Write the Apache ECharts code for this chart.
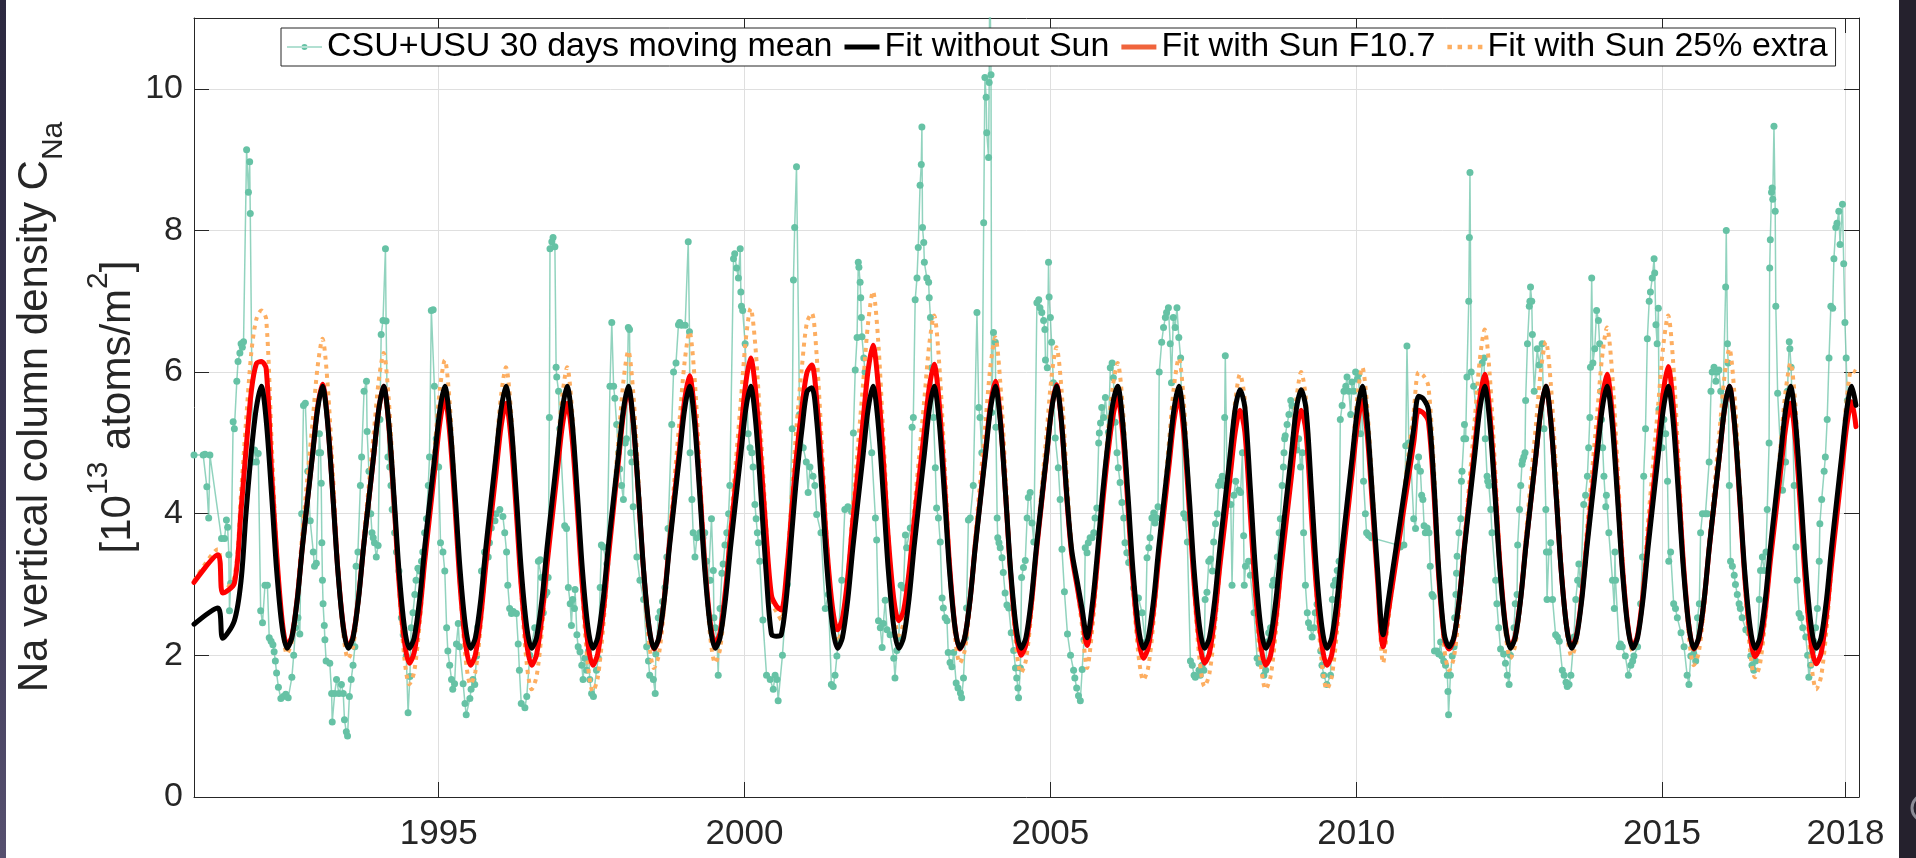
<!DOCTYPE html>
<html>
<head>
<meta charset="utf-8">
<title>Na vertical column density</title>
<script src="https://cdn.jsdelivr.net/npm/echarts@6/dist/echarts.min.js"></script>
<style>
  html, body { margin: 0; padding: 0; background: #ffffff; }
  #chart { width: 1916px; height: 858px; }
</style>
</head>
<body>
<div id="chart"></div>
<script>
// ---- Tick labels -------------------------------------------------------
const yearTicks = [1995, 2000, 2005, 2010, 2015, 2018];
const valueTicks = [0, 2, 4, 6, 8, 10];

// ---- Series names ------------------------------------------------------
const nameObs = 'CSU+USU 30 days moving mean';
const nameNoSun = 'Fit without Sun';
const nameF107 = 'Fit with Sun F10.7';
const nameExtra = 'Fit with Sun 25% extra';

// ---- Observations: [decimal year, column density] ---------------------
const obsData = [
  [1991.00,4.83],[1991.15,4.83],[1991.18,4.84],[1991.21,4.38],[1991.24,3.94],[1991.26,4.83],[1991.45,3.65],[1991.50,3.65],[1991.53,3.91],[1991.55,3.81],[1991.57,3.42],[1991.58,2.63],[1991.60,3.02],[1991.64,5.30],[1991.66,5.20],[1991.70,5.87],[1991.72,6.15],[1991.75,6.27],[1991.77,6.40],[1991.79,6.35],[1991.81,6.43],[1991.86,9.14],[1991.89,8.54],[1991.91,8.97],[1991.92,8.24],[1991.96,4.73],[1991.99,4.90],
  [1992.02,4.73],[1992.05,4.85],[1992.09,2.63],[1992.12,2.46],[1992.16,2.99],[1992.20,2.99],[1992.23,2.25],[1992.26,2.20],[1992.29,2.15],[1992.31,2.05],[1992.33,1.92],[1992.35,1.75],[1992.38,1.55],[1992.42,1.39],[1992.46,1.42],[1992.50,1.45],[1992.54,1.40],[1992.60,1.69],[1992.63,2.00],[1992.66,2.39],[1992.70,2.53],[1992.73,2.30],[1992.76,4.00],[1992.79,5.53],[1992.82,5.56],[1992.86,4.60],[1992.90,3.90],[1992.95,3.46],[1992.97,3.26],
  [1993.00,3.30],[1993.04,4.86],[1993.05,5.13],[1993.07,4.86],[1993.08,4.43],[1993.09,3.59],[1993.10,3.06],[1993.11,2.73],[1993.13,2.42],[1993.14,2.22],[1993.16,1.92],[1993.22,1.89],[1993.25,1.46],[1993.26,1.06],[1993.30,1.46],[1993.33,1.66],[1993.37,1.46],[1993.41,1.59],[1993.44,1.46],[1993.46,1.09],[1993.49,0.92],[1993.51,0.86],[1993.54,1.42],[1993.57,1.66],[1993.60,1.86],[1993.63,2.12],[1993.65,3.26],[1993.68,3.46],[1993.72,4.40],[1993.74,4.80],[1993.78,5.73],[1993.82,5.87],[1993.83,5.16],[1993.86,4.60],[1993.89,4.00],[1993.91,3.73],[1993.93,3.66],[1993.95,3.59],[1993.98,3.39],
  [1994.01,3.55],[1994.04,5.33],[1994.06,6.53],[1994.09,6.73],[1994.13,7.74],[1994.14,6.72],[1994.17,4.80],[1994.20,4.66],[1994.22,4.40],[1994.24,4.06],[1994.28,3.73],[1994.31,3.46],[1994.35,3.19],[1994.39,2.53],[1994.42,2.29],[1994.47,1.99],[1994.50,1.19],[1994.53,1.70],[1994.55,2.39],[1994.58,2.60],[1994.61,2.86],[1994.63,3.06],[1994.66,3.23],[1994.69,3.19],[1994.72,3.33],[1994.74,3.46],[1994.77,3.73],[1994.80,3.93],[1994.83,4.40],[1994.85,4.80],[1994.88,6.87],[1994.91,6.88],[1994.93,5.80],[1994.96,5.06],
  [1995.00,4.66],[1995.03,3.59],[1995.07,3.46],[1995.10,3.19],[1995.13,2.39],[1995.15,2.06],[1995.18,1.86],[1995.21,1.66],[1995.23,1.52],[1995.26,1.60],[1995.29,2.16],[1995.32,2.45],[1995.34,2.12],[1995.40,1.60],[1995.43,1.32],[1995.45,1.16],[1995.51,1.39],[1995.53,1.52],[1995.56,1.66],[1995.59,1.59],[1995.62,1.99],[1995.64,2.40],[1995.70,3.19],[1995.75,3.46],[1995.81,3.39],[1995.83,3.59],[1995.86,3.80],[1995.92,3.90],[1995.94,4.00],
  [1996.00,4.06],[1996.05,3.96],[1996.08,3.73],[1996.11,3.46],[1996.13,2.99],[1996.16,2.66],[1996.19,2.59],[1996.22,2.62],[1996.27,2.59],[1996.30,2.16],[1996.32,1.79],[1996.35,1.32],[1996.41,1.26],[1996.44,1.42],[1996.49,2.00],[1996.57,2.39],[1996.60,2.20],[1996.63,3.33],[1996.66,3.35],[1996.68,3.10],[1996.71,2.60],[1996.74,2.85],[1996.77,2.89],[1996.79,3.10],[1996.81,5.36],[1996.82,7.74],[1996.85,7.84],[1996.87,7.90],[1996.90,7.77],[1996.92,6.07],[1996.93,5.93],[1996.96,5.73],[1996.98,5.20],
  [1997.06,3.83],[1997.09,3.79],[1997.12,2.96],[1997.15,2.73],[1997.17,2.42],[1997.19,2.79],[1997.22,2.66],[1997.23,2.93],[1997.26,2.29],[1997.28,2.12],[1997.31,2.05],[1997.34,1.86],[1997.36,1.66],[1997.39,1.96],[1997.42,1.79],[1997.45,2.06],[1997.47,1.66],[1997.50,1.46],[1997.53,1.42],[1997.58,1.79],[1997.61,1.96],[1997.64,2.96],[1997.66,3.56],[1997.69,3.53],[1997.75,3.29],[1997.80,5.80],[1997.83,6.70],[1997.86,5.80],[1997.88,5.63],[1997.91,5.26],[1997.94,4.86],[1997.96,4.63],[1997.99,4.40],
  [1998.02,4.20],[1998.05,5.00],[1998.07,5.06],[1998.10,6.63],[1998.12,6.60],[1998.14,4.86],[1998.16,4.73],[1998.18,4.10],[1998.24,3.39],[1998.29,3.06],[1998.35,2.79],[1998.40,2.12],[1998.43,1.92],[1998.45,1.72],[1998.51,1.66],[1998.54,1.46],[1998.55,2.02],[1998.59,2.53],[1998.62,2.62],[1998.66,2.76],[1998.70,2.96],[1998.73,3.39],[1998.75,3.79],[1998.81,5.26],[1998.84,6.00],[1998.88,6.13],[1998.92,6.67],[1998.94,6.70],[1998.97,6.66],
  [1999.03,6.66],[1999.08,7.84],[1999.10,6.57],[1999.11,4.86],[1999.14,4.20],[1999.16,3.73],[1999.19,3.39],[1999.22,3.66],[1999.27,3.73],[1999.32,3.66],[1999.35,3.73],[1999.38,3.33],[1999.41,3.06],[1999.44,3.06],[1999.46,3.93],[1999.49,3.20],[1999.50,2.53],[1999.52,2.39],[1999.55,2.22],[1999.57,1.72],[1999.60,2.66],[1999.63,3.16],[1999.65,3.29],[1999.68,3.56],[1999.71,3.73],[1999.74,4.00],[1999.76,4.40],[1999.82,7.60],[1999.84,7.67],[1999.87,7.47],[1999.90,7.33],[1999.93,7.74],[1999.94,7.13],[1999.95,6.93],[1999.97,6.87],
  [2000.01,6.40],[2000.06,5.13],[2000.09,4.93],[2000.12,4.86],[2000.14,4.66],[2000.17,4.13],[2000.19,3.93],[2000.21,3.73],[2000.23,3.59],[2000.25,3.33],[2000.30,2.50],[2000.36,1.72],[2000.42,1.66],[2000.47,1.52],[2000.50,1.72],[2000.53,1.66],[2000.55,1.36],[2000.62,2.00],[2000.70,3.00],[2000.78,5.20],[2000.80,7.30],[2000.82,8.04],[2000.85,8.90],[2000.90,5.40],[2000.96,4.93],
  [2001.01,4.73],[2001.04,4.30],[2001.07,4.66],[2001.12,4.53],[2001.15,4.40],[2001.18,3.99],[2001.25,3.73],[2001.32,2.66],[2001.37,2.86],[2001.42,1.59],[2001.45,1.56],[2001.48,1.72],[2001.51,1.99],[2001.53,2.20],[2001.59,3.06],[2001.64,4.06],[2001.69,4.10],[2001.75,4.03],[2001.78,5.14],[2001.81,6.03],[2001.84,6.49],[2001.86,7.55],[2001.87,7.48],[2001.89,7.27],[2001.90,7.05],[2001.91,6.77],[2001.92,6.50],[2001.95,6.20],[2001.97,6.00],
  [2002.00,5.60],[2002.08,4.86],[2002.14,3.94],[2002.16,3.63],[2002.19,2.49],[2002.22,2.39],[2002.25,2.11],[2002.27,2.45],[2002.30,2.78],[2002.33,2.36],[2002.38,2.29],[2002.44,1.96],[2002.46,1.68],[2002.49,2.07],[2002.52,2.25],[2002.56,2.99],[2002.60,2.95],[2002.63,3.70],[2002.65,3.52],[2002.71,3.80],[2002.74,5.22],[2002.76,5.36],[2002.79,7.02],[2002.82,7.33],[2002.84,7.76],[2002.87,8.64],[2002.89,8.93],[2002.90,9.46],[2002.91,8.04],[2002.93,7.83],[2002.94,7.55],[2002.98,7.33],
  [2003.01,7.27],[2003.02,7.05],[2003.04,6.77],[2003.06,6.06],[2003.09,5.36],[2003.12,4.65],[2003.14,4.08],[2003.17,3.94],[2003.20,3.60],[2003.23,2.81],[2003.25,2.67],[2003.28,2.53],[2003.31,2.49],[2003.33,2.04],[2003.36,1.90],[2003.39,1.84],[2003.42,2.04],[2003.46,1.61],[2003.49,1.54],[2003.53,1.47],[2003.55,1.40],[2003.58,1.68],[2003.61,2.25],[2003.63,2.67],[2003.66,3.91],[2003.69,3.94],[2003.74,4.40],[2003.80,6.84],[2003.83,5.50],[2003.85,5.36],[2003.88,4.86],[2003.91,8.11],[2003.93,10.16],[2003.95,9.88],[2003.96,9.38],[2003.99,9.03],
  [2004.00,10.09],[2004.01,11.80],[2004.03,10.20],[2004.04,5.43],[2004.07,6.56],[2004.10,6.42],[2004.11,5.22],[2004.13,3.94],[2004.14,3.66],[2004.16,3.59],[2004.18,3.52],[2004.21,3.38],[2004.23,3.17],[2004.26,2.88],[2004.29,2.71],[2004.32,2.67],[2004.36,2.32],[2004.40,2.07],[2004.43,1.82],[2004.45,1.68],[2004.47,1.54],[2004.48,1.40],[2004.51,1.82],[2004.53,3.10],[2004.56,3.24],[2004.59,3.34],[2004.62,3.94],[2004.64,4.23],[2004.67,4.30],[2004.70,3.87],[2004.73,3.60],[2004.78,6.98],[2004.81,7.02],[2004.83,6.91],[2004.86,6.84],[2004.89,6.73],[2004.91,6.60],[2004.92,6.17],[2004.95,6.06],[2004.97,7.55],[2004.98,7.06],
  [2005.00,6.77],[2005.02,6.42],[2005.05,5.85],[2005.08,5.07],[2005.13,4.65],[2005.16,4.20],[2005.19,3.50],[2005.23,2.90],[2005.28,2.30],[2005.33,2.00],[2005.38,1.79],[2005.40,1.68],[2005.43,1.54],[2005.46,1.43],[2005.49,1.36],[2005.52,1.80],[2005.55,2.22],[2005.57,3.52],[2005.60,3.45],[2005.62,3.59],[2005.65,3.66],[2005.68,3.66],[2005.71,3.73],[2005.73,3.94],[2005.76,4.08],[2005.79,5.00],[2005.80,5.14],[2005.82,5.28],[2005.84,5.50],[2005.87,5.36],[2005.90,5.64],[2005.95,5.15],[2005.98,6.06],
  [2006.01,6.13],[2006.03,5.92],[2006.06,5.29],[2006.09,4.86],[2006.11,4.65],[2006.14,4.44],[2006.17,4.16],[2006.20,3.94],[2006.22,3.59],[2006.25,3.45],[2006.28,3.31],[2006.36,2.95],[2006.44,2.81],[2006.50,2.60],[2006.55,2.18],[2006.58,3.38],[2006.61,3.52],[2006.63,3.66],[2006.66,3.94],[2006.69,4.01],[2006.71,3.87],[2006.74,3.94],[2006.76,4.10],[2006.78,6.00],[2006.82,6.42],[2006.85,6.63],[2006.88,6.77],[2006.90,6.84],[2006.93,6.91],[2006.96,6.40],[2006.98,5.85],
  [2007.01,6.77],[2007.04,6.63],[2007.07,6.91],[2007.10,6.49],[2007.13,6.20],[2007.18,4.00],[2007.21,3.94],[2007.24,3.60],[2007.29,1.92],[2007.32,1.86],[2007.35,1.72],[2007.37,1.69],[2007.43,1.79],[2007.45,1.72],[2007.48,1.86],[2007.51,1.79],[2007.53,2.79],[2007.56,2.89],[2007.59,3.33],[2007.62,3.36],[2007.65,3.19],[2007.67,3.60],[2007.70,3.86],[2007.73,4.00],[2007.75,4.40],[2007.78,4.46],[2007.81,4.53],[2007.84,4.40],[2007.85,5.36],[2007.86,6.23],[2007.89,4.40],[2007.95,4.13],[2007.97,2.99],
  [2008.00,4.26],[2008.03,4.46],[2008.08,4.33],[2008.11,4.30],[2008.14,4.86],[2008.16,3.69],[2008.17,2.99],[2008.19,3.26],[2008.24,3.33],[2008.27,3.13],[2008.33,2.60],[2008.38,1.96],[2008.41,1.89],[2008.46,2.12],[2008.49,1.72],[2008.52,1.79],[2008.54,2.19],[2008.57,2.32],[2008.60,2.39],[2008.63,2.99],[2008.65,3.06],[2008.71,3.39],[2008.74,3.73],[2008.76,3.93],[2008.79,4.40],[2008.81,4.66],[2008.82,4.86],[2008.83,5.06],[2008.84,5.10],[2008.87,5.26],[2008.90,5.40],[2008.93,5.60],[2008.95,5.53],[2008.98,5.06],
  [2009.03,4.90],[2009.06,5.06],[2009.09,4.66],[2009.12,4.86],[2009.14,3.73],[2009.17,2.99],[2009.20,2.60],[2009.22,2.46],[2009.25,2.39],[2009.28,2.26],[2009.31,2.39],[2009.33,2.60],[2009.36,2.72],[2009.42,2.06],[2009.44,1.86],[2009.47,1.72],[2009.52,1.59],[2009.58,1.72],[2009.61,2.79],[2009.63,2.99],[2009.66,3.06],[2009.69,3.20],[2009.72,3.33],[2009.74,5.33],[2009.77,5.53],[2009.80,5.73],[2009.83,5.80],[2009.85,5.93],[2009.88,5.73],[2009.91,5.40],[2009.93,5.86],[2009.96,5.73],[2009.99,6.00],
  [2010.02,5.90],[2010.04,5.97],[2010.07,5.13],[2010.10,5.73],[2010.12,4.46],[2010.15,4.00],[2010.17,3.73],[2010.20,3.70],[2010.22,3.69],[2010.25,3.66],[2010.67,3.56],[2010.72,3.53],[2010.78,3.56],[2010.81,4.96],[2010.83,6.37],[2010.86,5.00],[2010.89,4.80],[2010.94,3.93],[2010.97,3.79],
  [2011.00,4.66],[2011.02,4.80],[2011.05,4.60],[2011.07,4.26],[2011.09,4.20],[2011.11,3.83],[2011.13,3.73],[2011.16,3.80],[2011.19,3.73],[2011.21,3.26],[2011.24,2.86],[2011.26,2.83],[2011.28,2.06],[2011.32,2.06],[2011.35,2.02],[2011.38,2.19],[2011.40,1.99],[2011.43,1.92],[2011.46,1.86],[2011.49,1.72],[2011.50,1.49],[2011.51,1.16],[2011.54,1.72],[2011.57,1.99],[2011.60,2.12],[2011.61,2.53],[2011.63,2.86],[2011.64,3.16],[2011.65,3.40],[2011.68,3.73],[2011.71,3.93],[2011.72,4.46],[2011.73,4.60],[2011.76,5.06],[2011.77,5.26],[2011.79,5.06],[2011.81,5.93],[2011.84,7.00],[2011.85,7.90],[2011.86,8.82],[2011.88,6.00],[2011.92,5.80],[2011.98,5.33],
  [2012.03,5.73],[2012.06,6.13],[2012.09,6.20],[2012.11,5.06],[2012.14,4.53],[2012.15,4.46],[2012.17,4.40],[2012.20,4.06],[2012.22,3.73],[2012.28,3.06],[2012.30,2.73],[2012.33,2.39],[2012.36,2.09],[2012.41,2.02],[2012.44,1.89],[2012.47,1.72],[2012.50,1.59],[2012.52,2.00],[2012.58,2.39],[2012.60,2.73],[2012.63,2.86],[2012.64,3.56],[2012.67,4.06],[2012.69,4.40],[2012.71,4.70],[2012.72,4.75],[2012.74,4.80],[2012.76,4.86],[2012.77,5.60],[2012.80,6.40],[2012.83,6.93],[2012.84,7.00],[2012.85,7.20],[2012.87,7.00],[2012.88,6.53],[2012.91,5.73],[2012.96,6.33],[2012.99,6.10],
  [2013.04,6.40],[2013.07,5.20],[2013.10,4.06],[2013.11,3.46],[2013.12,2.79],[2013.15,3.46],[2013.18,3.59],[2013.21,2.79],[2013.26,2.29],[2013.29,2.26],[2013.32,2.20],[2013.37,1.79],[2013.40,1.72],[2013.43,1.62],[2013.45,1.56],[2013.48,1.59],[2013.51,1.72],[2013.56,2.26],[2013.59,2.79],[2013.62,3.06],[2013.64,3.29],[2013.67,3.00],[2013.72,4.13],[2013.75,4.26],[2013.78,4.53],[2013.80,4.93],[2013.82,5.36],[2013.83,6.07],[2013.85,7.33],[2013.87,6.13],[2013.90,6.33],[2013.93,6.87],[2013.96,6.73],[2013.98,6.40],
  [2014.00,5.73],[2014.01,5.33],[2014.03,4.93],[2014.05,4.53],[2014.08,4.10],[2014.09,4.26],[2014.13,3.73],[2014.19,3.06],[2014.22,2.66],[2014.23,3.46],[2014.24,3.06],[2014.30,2.12],[2014.32,2.16],[2014.35,2.12],[2014.40,1.99],[2014.45,1.72],[2014.49,1.86],[2014.52,1.92],[2014.54,1.99],[2014.60,2.12],[2014.65,2.73],[2014.68,3.39],[2014.70,4.53],[2014.73,5.20],[2014.76,6.47],[2014.79,7.00],[2014.81,7.13],[2014.84,7.33],[2014.87,7.60],[2014.88,7.40],[2014.90,6.67],[2014.92,6.40],[2014.94,6.90],[2014.95,5.47],
  [2015.00,4.93],[2015.03,5.33],[2015.06,5.13],[2015.09,4.46],[2015.11,3.33],[2015.14,3.46],[2015.19,2.73],[2015.22,2.66],[2015.25,2.53],[2015.31,2.32],[2015.36,2.12],[2015.41,1.72],[2015.44,1.59],[2015.47,1.99],[2015.50,2.12],[2015.52,2.02],[2015.55,1.92],[2015.58,2.53],[2015.61,2.73],[2015.63,3.73],[2015.66,4.00],[2015.71,4.00],[2015.74,4.00],[2015.77,4.73],[2015.80,5.73],[2015.82,6.00],[2015.85,6.07],[2015.88,5.87],[2015.90,6.00],[2015.93,6.03],[2015.96,5.73],[2015.99,5.33],
  [2016.04,7.20],[2016.05,8.00],[2016.07,6.40],[2016.08,6.13],[2016.10,4.40],[2016.12,3.33],[2016.15,3.26],[2016.18,3.13],[2016.20,3.00],[2016.23,2.86],[2016.26,2.73],[2016.28,2.66],[2016.31,2.53],[2016.37,2.36],[2016.42,2.32],[2016.45,1.99],[2016.47,1.86],[2016.50,1.79],[2016.53,1.92],[2016.56,2.12],[2016.59,2.79],[2016.61,3.20],[2016.64,3.39],[2016.67,3.20],[2016.70,3.46],[2016.72,4.06],[2016.75,5.00],[2016.76,7.47],[2016.77,7.87],[2016.79,8.54],[2016.80,8.60],[2016.81,8.44],[2016.83,9.47],[2016.85,8.27],[2016.86,6.93],[2016.89,5.70],[2016.97,4.33],
  [2017.02,4.73],[2017.05,5.73],[2017.08,6.43],[2017.09,6.33],[2017.11,6.07],[2017.13,5.40],[2017.16,4.40],[2017.19,3.53],[2017.21,3.06],[2017.24,2.59],[2017.27,2.53],[2017.30,2.39],[2017.35,2.26],[2017.38,2.00],[2017.40,1.69],[2017.43,1.86],[2017.46,2.06],[2017.48,2.20],[2017.51,2.39],[2017.54,2.66],[2017.57,3.33],[2017.58,3.86],[2017.61,4.20],[2017.65,4.60],[2017.67,4.80],[2017.70,5.33],[2017.73,6.20],[2017.76,6.93],[2017.79,6.90],[2017.81,7.60],[2017.84,8.04],[2017.86,8.10],[2017.89,8.27],[2017.91,7.80],[2017.95,8.37],[2017.97,7.53],[2017.99,6.70],
  [2018.01,6.20],[2018.03,5.60]
];

// ---- Fit curves, sampled on a common time grid (one row per year) -----
const fitTime = [
  [1991.00,1991.39,1991.47,1991.66,1991.77,1991.85,1991.94],
  [1992.02,1992.10,1992.18,1992.27,1992.35,1992.44,1992.52,1992.60,1992.69,1992.77,1992.85,1992.94],
  [1993.02,1993.10,1993.18,1993.27,1993.35,1993.44,1993.52,1993.60,1993.69,1993.77,1993.85,1993.94],
  [1994.02,1994.10,1994.18,1994.27,1994.35,1994.44,1994.52,1994.60,1994.69,1994.77,1994.85,1994.94],
  [1995.02,1995.10,1995.18,1995.27,1995.35,1995.44,1995.52,1995.60,1995.69,1995.77,1995.85,1995.94],
  [1996.02,1996.10,1996.18,1996.27,1996.35,1996.44,1996.52,1996.60,1996.69,1996.77,1996.85,1996.94],
  [1997.02,1997.10,1997.18,1997.27,1997.35,1997.44,1997.52,1997.60,1997.69,1997.77,1997.85,1997.94],
  [1998.02,1998.10,1998.18,1998.27,1998.35,1998.44,1998.52,1998.60,1998.69,1998.77,1998.85,1998.94],
  [1999.02,1999.10,1999.18,1999.27,1999.35,1999.44,1999.52,1999.60,1999.69,1999.77,1999.85,1999.94],
  [2000.02,2000.10,2000.18,2000.27,2000.35,2000.44,2000.52,2000.60,2000.69,2000.77,2000.85,2000.94],
  [2001.02,2001.10,2001.18,2001.27,2001.35,2001.44,2001.52,2001.60,2001.69,2001.77,2001.85,2001.94],
  [2002.02,2002.10,2002.18,2002.27,2002.35,2002.44,2002.52,2002.60,2002.69,2002.77,2002.85,2002.94],
  [2003.02,2003.10,2003.18,2003.27,2003.35,2003.44,2003.52,2003.60,2003.69,2003.77,2003.85,2003.94],
  [2004.02,2004.10,2004.18,2004.27,2004.35,2004.44,2004.52,2004.60,2004.69,2004.77,2004.85,2004.94],
  [2005.02,2005.10,2005.18,2005.27,2005.35,2005.44,2005.52,2005.60,2005.69,2005.77,2005.85,2005.94],
  [2006.02,2006.10,2006.18,2006.27,2006.35,2006.44,2006.52,2006.60,2006.69,2006.77,2006.85,2006.94],
  [2007.02,2007.10,2007.18,2007.27,2007.35,2007.44,2007.52,2007.60,2007.69,2007.77,2007.85,2007.94],
  [2008.02,2008.10,2008.18,2008.27,2008.35,2008.44,2008.52,2008.60,2008.69,2008.77,2008.85,2008.94],
  [2009.02,2009.10,2009.18,2009.27,2009.35,2009.44,2009.52,2009.60,2009.69,2009.77,2009.85,2009.94],
  [2010.02,2010.10,2010.18,2010.27,2010.35,2010.44,2010.52,2010.60,2010.69,2010.77,2010.85,2010.94],
  [2011.02,2011.10,2011.18,2011.27,2011.35,2011.44,2011.52,2011.60,2011.69,2011.77,2011.85,2011.94],
  [2012.02,2012.10,2012.18,2012.27,2012.35,2012.44,2012.52,2012.60,2012.69,2012.77,2012.85,2012.94],
  [2013.02,2013.10,2013.18,2013.27,2013.35,2013.44,2013.52,2013.60,2013.69,2013.77,2013.85,2013.94],
  [2014.02,2014.10,2014.18,2014.27,2014.35,2014.44,2014.52,2014.60,2014.69,2014.77,2014.85,2014.94],
  [2015.02,2015.10,2015.18,2015.27,2015.35,2015.44,2015.52,2015.60,2015.69,2015.77,2015.85,2015.94],
  [2016.02,2016.10,2016.18,2016.27,2016.35,2016.44,2016.52,2016.60,2016.69,2016.77,2016.85,2016.94],
  [2017.02,2017.10,2017.18,2017.27,2017.35,2017.44,2017.52,2017.60,2017.69,2017.77,2017.85,2017.94],
  [2018.02,2018.10,2018.17]
];

const fitNoSun = [
  [2.44,2.67,2.24,2.49,3.06,4.00,4.90],
  [5.50,5.80,5.32,4.25,3.21,2.40,2.10,2.25,2.80,3.51,4.14,4.84],
  [5.47,5.80,5.32,4.25,3.21,2.40,2.10,2.25,2.80,3.51,4.14,4.84],
  [5.47,5.80,5.32,4.25,3.21,2.40,2.10,2.25,2.80,3.51,4.14,4.84],
  [5.47,5.80,5.32,4.25,3.21,2.40,2.10,2.25,2.80,3.51,4.14,4.84],
  [5.47,5.80,5.32,4.25,3.21,2.40,2.10,2.25,2.80,3.51,4.14,4.84],
  [5.47,5.80,5.32,4.25,3.21,2.40,2.10,2.25,2.80,3.51,4.14,4.84],
  [5.47,5.80,5.32,4.25,3.21,2.40,2.10,2.25,2.80,3.51,4.14,4.84],
  [5.47,5.80,5.32,4.25,3.21,2.40,2.10,2.25,2.80,3.51,4.14,4.84],
  [5.47,5.80,5.32,4.25,3.21,2.30,2.27,2.29,2.86,3.70,4.50,5.20],
  [5.72,5.78,5.32,4.25,3.21,2.40,2.10,2.25,2.80,3.51,4.14,4.84],
  [5.47,5.80,5.32,4.25,3.21,2.40,2.10,2.25,2.80,3.51,4.14,4.84],
  [5.47,5.80,5.32,4.25,3.21,2.40,2.10,2.25,2.80,3.51,4.14,4.84],
  [5.47,5.80,5.32,4.25,3.21,2.40,2.10,2.25,2.80,3.51,4.14,4.84],
  [5.47,5.80,5.32,4.25,3.48,3.04,2.65,2.25,2.75,3.45,4.25,5.00],
  [5.55,5.80,5.32,4.25,3.21,2.40,2.10,2.25,2.80,3.51,4.14,4.84],
  [5.47,5.80,5.32,4.25,3.21,2.40,2.10,2.25,2.80,3.51,4.14,4.84],
  [5.47,5.75,5.50,4.35,3.25,2.40,2.10,2.25,2.80,3.51,4.14,4.84],
  [5.47,5.75,5.48,4.30,3.21,2.40,2.10,2.25,2.80,3.51,4.14,4.84],
  [5.47,5.80,5.30,4.20,3.20,2.29,2.75,3.22,3.74,4.21,4.67,5.20],
  [5.66,5.62,5.47,4.45,3.20,2.30,2.12,2.27,2.82,3.52,4.14,4.84],
  [5.47,5.80,5.32,4.25,3.21,2.40,2.10,2.25,2.80,3.51,4.14,4.84],
  [5.47,5.80,5.32,4.25,3.21,2.40,2.10,2.25,2.80,3.51,4.14,4.84],
  [5.47,5.80,5.32,4.25,3.21,2.40,2.10,2.25,2.80,3.51,4.14,4.84],
  [5.47,5.80,5.32,4.25,3.21,2.40,2.10,2.25,2.80,3.51,4.14,4.84],
  [5.47,5.80,5.32,4.25,3.21,2.40,2.10,2.25,2.80,3.51,4.14,4.84],
  [5.47,5.80,5.32,4.25,3.21,2.40,2.10,2.25,2.80,3.51,4.14,4.84],
  [5.47,5.80,5.53]
];

const fitF107 = [
  [3.03,3.42,2.88,3.02,4.06,4.90,5.75],
  [6.12,6.15,6.05,4.55,3.45,2.50,2.15,2.27,2.82,3.53,4.16,4.87],
  [5.50,5.83,5.35,4.27,3.23,2.42,2.12,2.27,2.82,3.52,4.14,4.84],
  [5.47,5.80,5.29,4.16,3.06,2.20,1.89,2.04,2.60,3.31,3.95,4.66],
  [5.29,5.63,5.14,4.05,2.99,2.16,1.86,2.01,2.56,3.27,3.90,4.60],
  [5.23,5.56,5.08,4.01,2.97,2.16,1.86,2.01,2.56,3.27,3.90,4.60],
  [5.23,5.56,5.08,4.01,2.97,2.16,1.86,2.02,2.60,3.34,4.01,4.75],
  [5.41,5.76,5.28,4.22,3.19,2.38,2.09,2.24,2.82,3.56,4.21,4.95],
  [5.60,5.95,5.46,4.36,3.30,2.46,2.16,2.32,2.93,3.70,4.38,5.15],
  [5.84,6.20,5.75,4.74,3.76,2.85,2.70,2.64,3.19,4.02,4.82,5.51],
  [5.99,6.10,5.61,4.53,3.48,2.66,2.36,2.52,3.12,3.89,4.57,5.33],
  [6.02,6.38,5.87,4.75,3.66,2.80,2.49,2.63,3.18,3.87,4.48,5.17],
  [5.78,6.11,5.59,4.42,3.30,2.41,2.09,2.24,2.81,3.53,4.17,4.89],
  [5.53,5.87,5.37,4.24,3.16,2.31,2.00,2.15,2.73,3.45,4.10,4.83],
  [5.48,5.82,5.30,4.20,3.42,2.96,2.55,2.14,2.63,3.33,4.10,4.84],
  [5.36,5.64,5.16,4.09,3.06,2.25,1.96,2.11,2.66,3.36,3.98,4.68],
  [5.31,5.64,5.15,4.07,3.02,2.19,1.89,2.03,2.57,3.25,3.85,4.53],
  [5.14,5.46,5.15,3.98,2.94,2.15,1.86,2.00,2.54,3.23,3.84,4.52],
  [5.14,5.46,5.15,3.95,2.94,2.15,1.86,2.01,2.57,3.28,3.92,4.63],
  [5.26,5.60,5.12,4.05,3.05,2.12,2.58,3.04,3.56,4.02,4.48,5.00],
  [5.46,5.42,5.30,4.30,3.10,2.25,2.09,2.25,2.83,3.56,4.22,4.96],
  [5.62,5.97,5.47,4.35,3.28,2.43,2.12,2.27,2.82,3.52,4.14,4.84],
  [5.47,5.80,5.32,4.25,3.22,2.41,2.12,2.27,2.85,3.58,4.24,4.97],
  [5.62,5.97,5.47,4.35,3.28,2.43,2.12,2.28,2.87,3.62,4.30,5.05],
  [5.72,6.08,5.56,4.40,3.29,2.41,2.09,2.24,2.79,3.50,4.13,4.84],
  [5.47,5.80,5.30,4.20,3.13,2.29,1.98,2.12,2.65,3.33,3.93,4.61],
  [5.21,5.56,5.05,3.99,2.96,2.15,1.88,2.03,2.58,3.28,3.91,4.62],
  [5.24,5.58,5.23]
];

const fitExtra = [
  [3.05,3.50,2.90,3.10,4.30,5.30,6.30],
  [6.75,6.87,6.75,5.00,3.50,2.45,2.02,2.20,2.87,3.71,4.47,5.31],
  [6.07,6.47,5.88,4.57,3.31,2.31,1.95,2.12,2.77,3.59,4.33,5.15],
  [5.88,6.27,5.66,4.30,2.99,1.96,1.59,1.77,2.46,3.33,4.11,4.98],
  [5.76,6.17,5.57,4.25,2.96,1.96,1.59,1.77,2.44,3.29,4.05,4.91],
  [5.67,6.07,5.48,4.16,2.89,1.88,1.52,1.70,2.38,3.25,4.02,4.89],
  [5.66,6.07,5.47,4.15,2.86,1.86,1.49,1.68,2.40,3.32,4.14,5.05],
  [5.87,6.30,5.72,4.42,3.16,2.18,1.82,2.01,2.72,3.63,4.43,5.34],
  [6.14,6.57,5.96,4.60,3.29,2.26,1.89,2.09,2.84,3.79,4.65,5.60],
  [6.45,6.90,6.34,5.09,3.89,2.75,2.62,2.50,3.19,4.23,5.23,6.09],
  [6.70,6.83,6.23,4.88,3.58,2.56,2.19,2.39,3.13,4.07,4.91,5.85],
  [6.69,7.14,6.51,5.10,3.74,2.67,2.28,2.46,3.14,4.00,4.77,5.62],
  [6.39,6.80,6.16,4.74,3.36,2.28,1.89,2.07,2.76,3.64,4.42,5.29],
  [6.08,6.49,5.87,4.50,3.17,2.13,1.75,1.93,2.62,3.50,4.28,5.15],
  [5.94,6.35,5.78,4.50,3.50,2.95,2.40,1.82,2.42,3.29,4.23,5.14],
  [5.79,6.13,5.55,4.25,2.99,2.01,1.65,1.83,2.51,3.38,4.15,5.02],
  [5.79,6.20,5.60,4.25,2.95,1.93,1.56,1.74,2.40,3.24,3.99,4.82],
  [5.57,5.97,5.60,4.10,2.86,1.88,1.52,1.70,2.37,3.22,3.98,4.84],
  [5.60,6.00,5.60,4.12,2.86,1.88,1.52,1.70,2.38,3.25,4.02,4.89],
  [5.66,6.07,5.50,4.30,3.10,1.89,2.46,3.02,3.66,4.23,4.80,5.43],
  [6.00,5.95,5.80,4.65,3.25,2.10,1.79,1.98,2.70,3.62,4.44,5.35],
  [6.17,6.60,6.00,4.65,3.35,2.33,1.96,2.14,2.81,3.66,4.42,5.27],
  [6.03,6.43,5.85,4.57,3.32,2.35,1.99,2.18,2.87,3.75,4.54,5.42],
  [6.21,6.63,6.04,4.71,3.43,2.43,2.06,2.25,2.96,3.86,4.67,5.57],
  [6.37,6.80,6.16,4.73,3.34,2.26,1.86,2.04,2.71,3.56,4.32,5.17],
  [5.93,6.33,5.73,4.38,3.08,2.06,1.69,1.87,2.53,3.38,4.13,4.98],
  [5.73,6.13,5.53,4.19,2.90,1.89,1.52,1.70,2.38,3.23,4.00,4.86],
  [5.62,6.03,6.00]
];

// ---- Build [time, value] pairs for the fit lines -----------------------
const fitTimeFlat = fitTime.flat();
function pairWithTime(rows) {
  const vals = rows.flat();
  return fitTimeFlat.map((t, i) => [t, vals[i]]);
}

const FONT = "'Liberation Sans', Arial, Helvetica, sans-serif";
const AXIS_COLOR = '#262626';
const GRID_COLOR = '#dfdfdf';

const chart = echarts.init(document.getElementById('chart'), null, { renderer: 'canvas' });

const baseX = { type: 'value', min: 1991, max: 2018.22, scale: false };
const baseY = { type: 'value', min: 0, max: 11 };

chart.setOption({
  animation: false,
  backgroundColor: '#ffffff',
  grid: { left: 194, right: 57, top: 18, bottom: 61, containLabel: false },
  xAxis: [
    Object.assign({}, baseX, {
      position: 'bottom',
      axisLine: { show: true, onZero: false, lineStyle: { color: AXIS_COLOR, width: 1 } },
      axisTick: { show: true, inside: true, length: 15, customValues: yearTicks, lineStyle: { color: AXIS_COLOR, width: 1 } },
      axisLabel: { show: true, customValues: yearTicks, formatter: v => String(v), fontSize: 35, color: AXIS_COLOR, fontFamily: FONT, margin: 20 },
      splitLine: { show: true, lineStyle: { color: GRID_COLOR, width: 1 } }
    }),
    Object.assign({}, baseX, {
      position: 'top',
      axisLine: { show: true, onZero: false, lineStyle: { color: AXIS_COLOR, width: 1 } },
      axisTick: { show: true, inside: true, length: 15, customValues: yearTicks, lineStyle: { color: AXIS_COLOR, width: 1 } },
      axisLabel: { show: false },
      splitLine: { show: false }
    })
  ],
  yAxis: [
    Object.assign({}, baseY, {
      position: 'left',
      axisLine: { show: true, onZero: false, lineStyle: { color: AXIS_COLOR, width: 1 } },
      axisTick: { show: true, inside: true, length: 15, customValues: valueTicks, lineStyle: { color: AXIS_COLOR, width: 1 } },
      axisLabel: { show: true, customValues: valueTicks, fontSize: 34, color: AXIS_COLOR, fontFamily: FONT, margin: 11 },
      splitLine: { show: true, lineStyle: { color: GRID_COLOR, width: 1 } }
    }),
    Object.assign({}, baseY, {
      position: 'right',
      axisLine: { show: true, onZero: false, lineStyle: { color: AXIS_COLOR, width: 1 } },
      axisTick: { show: true, inside: true, length: 15, customValues: valueTicks, lineStyle: { color: AXIS_COLOR, width: 1 } },
      axisLabel: { show: false },
      splitLine: { show: false }
    })
  ],
  legend: {
    left: 281,
    top: 28,
    orient: 'horizontal',
    padding: [2, 8, 2, 6],
    itemGap: 12,
    itemWidth: 35,
    itemHeight: 8,
    borderColor: AXIS_COLOR,
    borderWidth: 1,
    backgroundColor: '#ffffff',
    selectedMode: false,
    textStyle: { fontSize: 34, color: '#000000', fontFamily: FONT },
    data: [
      { name: nameObs, icon: 'path://M0,2.4H35V3.6H0Z M14.5,3A3,3 0 1,0 20.5,3A3,3 0 1,0 14.5,3Z' },
      { name: nameNoSun, icon: 'path://M0,0H35V5H0Z' },
      { name: nameF107, icon: 'path://M0,0H35V5H0Z', itemStyle: { color: '#f0643c' } },
      { name: nameExtra, icon: 'path://M0,0H4V4H0Z M9,0H13V4H9Z M18,0H22V4H18Z M27,0H31V4H27Z' }
    ]
  },
  graphic: [
    // window edges around the figure
    { type: 'rect', left: 0, top: 0, silent: true, z: 100,
      shape: { width: 6, height: 858 },
      style: { fill: new echarts.graphic.LinearGradient(0, 0, 0, 1, [
        { offset: 0, color: '#2c2940' }, { offset: 0.6, color: '#3d3957' }, { offset: 1, color: '#56506f' }]) } },
    { type: 'rect', left: 1899, top: 0, silent: true, z: 100,
      shape: { width: 17, height: 858 },
      style: { fill: '#25212d' } },
    { type: 'circle', silent: true, z: 101,
      shape: { cx: 1925, cy: 808, r: 13 },
      style: { fill: 'none', stroke: '#8c8c96', lineWidth: 3 } },
    // y-axis title, two lines
    { type: 'text', x: 35, y: 407, rotation: Math.PI / 2, silent: true, z: 50,
      style: {
        text: '{m|Na vertical column density C}{s|Na}',
        align: 'center', verticalAlign: 'middle', fill: AXIS_COLOR,
        rich: {
          m: { fontSize: 42, fontFamily: FONT, lineHeight: 68, fill: AXIS_COLOR },
          s: { fontSize: 30, fontFamily: FONT, lineHeight: 30, verticalAlign: 'bottom', fill: AXIS_COLOR }
        }
      } },
    { type: 'text', x: 118, y: 407, rotation: Math.PI / 2, silent: true, z: 50,
      style: {
        text: '{m|[10}{p|13}{m| atoms/m}{p|2}{m|]}',
        align: 'center', verticalAlign: 'middle', fill: AXIS_COLOR,
        rich: {
          m: { fontSize: 42, fontFamily: FONT, lineHeight: 68, fill: AXIS_COLOR },
          p: { fontSize: 30, fontFamily: FONT, lineHeight: 30, verticalAlign: 'top', fill: AXIS_COLOR }
        }
      } }
  ],
  series: [
    {
      name: nameObs, type: 'line', xAxisIndex: 0, yAxisIndex: 0,
      data: obsData,
      symbol: 'circle', symbolSize: 7, showSymbol: true, showAllSymbol: true,
      itemStyle: { color: '#66c2a5' },
      lineStyle: { color: 'rgba(102,194,165,0.72)', width: 1.5 },
      clip: true, silent: true, z: 2
    },
    {
      name: nameExtra, type: 'line', xAxisIndex: 0, yAxisIndex: 0,
      data: pairWithTime(fitExtra),
      symbol: 'none', smooth: 0.3,
      itemStyle: { color: '#fdae61' },
      lineStyle: { color: '#fdae61', width: 4, type: [4, 5], cap: 'butt' },
      clip: true, silent: true, z: 3
    },
    {
      name: nameF107, type: 'line', xAxisIndex: 0, yAxisIndex: 0,
      data: pairWithTime(fitF107),
      symbol: 'none', smooth: 0.3,
      itemStyle: { color: '#ff0000' },
      lineStyle: { color: '#ff0000', width: 5, cap: 'round', join: 'round' },
      clip: true, silent: true, z: 4
    },
    {
      name: nameNoSun, type: 'line', xAxisIndex: 0, yAxisIndex: 0,
      data: pairWithTime(fitNoSun),
      symbol: 'none', smooth: 0.3,
      itemStyle: { color: '#000000' },
      lineStyle: { color: '#000000', width: 5, cap: 'round', join: 'round' },
      clip: true, silent: true, z: 5
    }
  ]
});
</script>
</body>
</html>
